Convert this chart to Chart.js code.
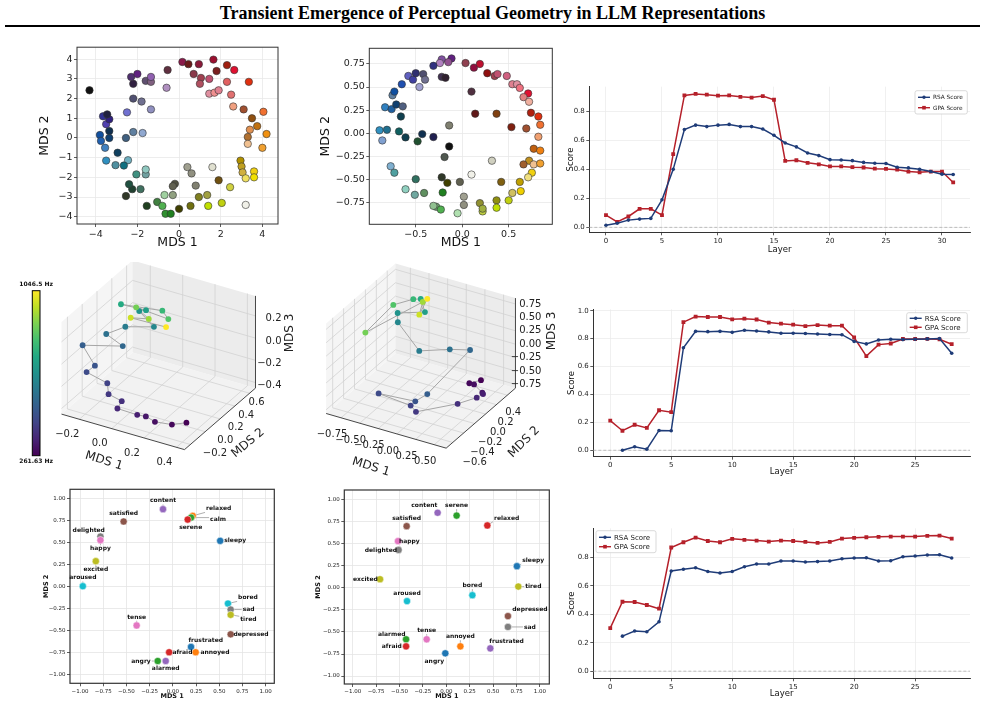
<!DOCTYPE html>
<html><head><meta charset="utf-8">
<script src="https://cdn.jsdelivr.net/npm/chart.js@4.4.1/dist/chart.umd.min.js"></script>
<style>
body{margin:0;background:#fff;width:985px;height:706px;position:relative;overflow:hidden;}
canvas{position:absolute;}
#title{position:absolute;left:0;width:985px;top:3px;text-align:center;font-family:"Liberation Serif","Times New Roman",serif;font-weight:bold;font-size:18px;color:#000;}
#rule{position:absolute;left:5px;width:975px;top:25px;height:2px;background:#000;}
</style></head><body>
<div id="title">Transient Emergence of Perceptual Geometry in LLM Representations</div>
<div id="rule"></div>
<canvas id="c1"></canvas><canvas id="c2"></canvas><canvas id="c3"></canvas>
<canvas id="c4"></canvas><canvas id="c5"></canvas><canvas id="c6"></canvas>
<canvas id="c7"></canvas><canvas id="c8"></canvas><canvas id="c9"></canvas>
<script>
// ---------------- DATA ----------------
// Panel 1: 2D MDS (colour stimuli)
const p1x = [-4.3,0.16,0.45,0.95,1.65,2.3,2.65,1.8,0.7,1.05,
 1.45,1.0,2.3,3.35,1.45,1.7,1.9,2.5,2.6,3.1,
 4.05,3.5,3.75,3.4,4.2,3.3,3.3,4.0,2.95,3.0,
 3.05,3.2,3.6,3.6,1.9,2.45,1.6,0.4,0.6,0.8,
 -0.2,-0.3,0.95,1.35,2.05,1.4,0.55,0.0,-0.3,-0.7,
 -1.05,-0.8,-0.65,-0.4,-1.55,3.2,-2.55,-2.25,-2.4,-1.85,
 -2.05,-1.6,-1.6,-2.45,-2.65,-3.05,-3.5,-2.95,-3.55,-3.8,
 -3.75,-3.35,-3.35,-3.5,-3.35,-3.65,-3.45,-2.55,-2.2,-1.75,
 -2.5,-1.35,-2.2,-1.8,-2.2,-2.3,-2.0,-1.6,-1.35,-1.35,
 -0.55,-0.6];
const p1y = [2.42,3.86,3.75,3.75,3.98,3.7,3.45,3.4,3.25,3.05,
 3.0,2.75,2.85,2.85,2.25,2.3,2.42,2.2,1.6,1.45,
 1.33,1.0,0.6,0.42,0.2,0.05,-0.3,-0.5,-1.15,-1.45,
 -1.75,-2.05,-1.7,-2.0,-2.15,-2.5,-1.48,-1.48,-1.8,-2.42,
 -2.33,-2.45,-3.0,-2.9,-3.3,-3.45,-3.45,-3.6,-2.9,-2.9,
 -3.25,-3.45,-3.85,-3.85,-3.45,-3.4,-2.95,-2.6,-2.35,-2.6,
 -1.85,-1.85,-1.6,-1.13,-1.4,-1.38,-1.15,-0.75,-0.5,0.15,
 -0.15,0.0,0.35,0.7,0.95,1.1,1.2,0.0,0.3,0.25,
 1.3,1.45,2.0,1.85,2.75,3.1,3.25,2.9,2.85,3.1,
 3.45,2.55];
const p1col = ['#111111','#8b1a4a','#6b1a1a','#8b1a3a','#9b1030','#a02010','#e01030','#7a2020','#8a3a4a','#a04050',
 '#c05070','#b05060','#e06060','#e03010','#e090a0','#f09090','#e08090','#e07070','#f0a080','#a05030',
 '#f07030','#905010','#c07010','#e09050','#f09010','#b07030','#f0c090','#f0a030','#b09000','#c0a020',
 '#d0b040','#f0e060','#f0d010','#f0e000','#705010','#d0d040','#e0e0d0','#a0a090','#909080','#808070',
 '#505040','#606050','#808020','#a0a040','#c0d010','#c0e000','#707010','#404000','#90a080','#a0d0a0',
 '#408040','#50b050','#309030','#208020','#204020','#f0f0e8','#303828','#204030','#205040','#407060',
 '#409080','#70a0a0','#90c8c0','#70b0c0','#107080','#5090a0','#3090c0','#104060','#4080c0','#1050a0',
 '#2060b0','#104070','#103050','#5040b0','#302080','#303090','#202040','#406080','#6080a0','#90a8d0',
 '#7070d0','#9090c0','#505070','#707090','#302040','#503070','#602080','#605070','#806080','#9060b0',
 '#603040','#b090c0'];
const p1XTicks = [-4,-2,0,2,4];
const p1YTicks = [-4,-3,-2,-1,0,1,2,3,4];

// Panel 2: 2D MDS (colour stimuli, second model)
const p2x = [-0.22,-0.115,-0.15,-0.24,-0.31,0.036,0.126,0.19,0.27,0.35,
 0.38,0.48,0.54,0.59,0.62,0.71,0.66,0.72,0.74,0.82,
 0.84,0.69,0.53,0.82,0.77,0.84,0.72,0.66,0.77,0.84,
 0.75,0.71,0.62,0.54,0.63,0.50,0.37,0.42,0.37,0.19,
 0.22,0.22,0.018,0.018,-0.05,-0.025,0.1,0.32,-0.21,-0.22,
 -0.16,-0.19,-0.14,-0.14,-0.28,-0.23,-0.31,-0.41,-0.51,-0.61,
 -0.5,-0.73,-0.77,-0.89,-0.81,-0.86,-0.68,-0.61,-0.48,-0.43,
 -0.31,-0.83,-0.76,-0.71,-0.64,-0.66,-0.75,-0.73,-0.65,-0.58,
 -0.53,-0.5,-0.42,-0.40,-0.46,-0.22,-0.18,0.10,0.14,0.37];
const p2y = [0.80,0.81,0.77,0.76,0.73,0.76,0.71,0.75,0.65,0.62,
 0.64,0.62,0.53,0.53,0.49,0.43,0.39,0.34,0.22,0.18,
 0.09,0.05,0.065,-0.04,-0.17,-0.19,-0.30,-0.34,-0.34,-0.33,
 -0.43,-0.48,-0.53,-0.65,-0.63,-0.73,-0.73,-0.53,-0.81,-0.76,
 -0.85,-0.82,-0.69,-0.78,-0.87,-0.53,-0.45,-0.30,-0.645,-0.48,
 -0.54,-0.26,-0.145,0.083,-0.80,-0.83,-0.79,-0.65,-0.67,-0.61,
 -0.5,-0.43,-0.36,0.03,0.036,-0.08,0.018,-0.047,-0.09,-0.011,
 -0.043,0.28,0.26,0.31,0.29,0.18,0.41,0.45,0.53,0.62,
 0.58,0.65,0.64,0.58,0.50,0.61,0.60,0.45,0.21,0.21];
const p2col = ['#8050a0','#602080','#905090','#b080c0','#303080','#904050','#901040','#c01030','#901010','#a04050',
 '#c05070','#d06080','#e08090','#e090a0','#f07080','#e01030','#e08080','#f0b0a0','#b02010','#e03010',
 '#f07030','#a05030','#802010','#f0a070','#c06010','#f08010','#c09020','#a06030','#f0c090','#f0a030',
 '#f0d010','#f0e080','#c0a000','#d0c060','#f0d000','#c0d010','#909010','#806010','#c0e000','#909030',
 '#c0d040','#a0b040','#a0a090','#909080','#b0e0b0','#606050','#f0f0e8','#d0d0c0','#208020','#303828',
 '#404000','#505850','#101010','#808070','#70a070','#50b050','#90c090','#609060','#70a8a0','#90d0c0',
 '#307060','#50a0a0','#80b0d0','#3090c0','#207090','#80a0d0','#106060','#104050','#205030','#103050',
 '#202050','#3080c0','#2060a0','#104070','#506080','#104050','#6080a0','#1050a0','#2050b0','#6060c0',
 '#4040a0','#303070','#505070','#707090','#a0a0d0','#403050','#302030','#503040','#601818','#804010'];
const p2XTicks = [-0.5,0,0.5];
const p2YTicks = [-0.75,-0.5,-0.25,0,0.25,0.5,0.75];

// Pitch stimuli (C4..C6)
const freqs = [261.63,277.18,293.66,311.13,329.63,349.23,369.99,392.00,415.30,440.00,466.16,493.88,
 523.25,554.37,587.33,622.25,659.26,698.46,739.99,783.99,830.61,880.00,932.33,987.77,1046.50];
// Panel 4: 3D MDS
const p4x = [0.366,0.290,0.176,0.129,0.071,-0.056,-0.020,-0.106,-0.123,-0.242,-0.186,-0.271,-0.107,-0.253,-0.179,-0.046,-0.093,-0.051,-0.162,0.006,0.043,-0.068,-0.034,-0.102,0.029];
const p4y = [-0.07,-0.10,-0.08,-0.10,-0.09,-0.08,-0.10,-0.09,-0.07,-0.09,-0.10,-0.08,0.104,0.2,0.296,0.392,0.296,0.296,0.2,0.392,0.392,0.2,0.296,0.2,0.392];
const p4z = [-0.364,-0.396,-0.430,-0.390,-0.406,-0.408,-0.315,-0.294,-0.214,-0.153,-0.066,0.071,0.026,0.018,0.059,0.059,0.236,0.262,0.324,0.226,0.166,0.336,0.191,0.228,0.088];
const p4XTicks = [-0.2,0,0.2,0.4], p4YTicks = [-0.2,0,0.2,0.4,0.6], p4ZTicks = [-0.4,-0.2,0,0.2];
// Panel 5: 3D MDS
const p5x = [0.383,0.227,0.383,0.494,0.551,0.512,0.349,-0.024,-0.095,-0.432,-0.126,-0.058,0.237,0.058,-0.166,-0.453,-0.456,-0.275,-0.425,-0.432,-0.514,-0.610,-0.398,-0.444,-0.430];
const p5y = [0.296,0.296,0.169,0.169,0.105,0.042,-0.085,-0.339,-0.339,-0.466,-0.212,-0.085,0.296,0.169,-0.085,-0.085,-0.085,0.169,0.296,0.169,-0.085,-0.466,0.296,0.296,0.423];
const p5z = [-0.558,-0.679,-0.527,-0.636,-0.583,-0.609,-0.677,-0.753,-0.665,-0.462,-0.710,-0.659,-0.054,-0.002,0.103,0.522,0.694,0.560,0.632,0.737,0.822,0.602,0.587,0.331,0.520];
const p5XTicks = [-0.75,-0.5,-0.25,0,0.25,0.5], p5YTicks = [-0.6,-0.4,-0.2,0,0.2,0.4], p5ZTicks = [-0.75,-0.5,-0.25,0,0.25,0.5,0.75];

// Line charts: RSA / GPA by layer
const layers3 = [0,1,2,3,4,5,6,7,8,9,10,11,12,13,14,15,16,17,18,19,20,21,22,23,24,25,26,27,28,29,30,31];
const rsa3 = [0.015,0.028,0.05,0.057,0.062,0.19,0.40,0.675,0.705,0.695,0.705,0.71,0.695,0.695,0.678,0.635,0.582,0.555,0.513,0.495,0.467,0.465,0.46,0.448,0.442,0.44,0.415,0.41,0.40,0.385,0.367,0.365];
const gpa3 = [0.085,0.037,0.075,0.128,0.128,0.085,0.505,0.91,0.92,0.915,0.908,0.91,0.90,0.895,0.905,0.88,0.458,0.463,0.445,0.435,0.42,0.42,0.415,0.413,0.405,0.403,0.398,0.385,0.38,0.385,0.385,0.31];
const layers6 = [0,1,2,3,4,5,6,7,8,9,10,11,12,13,14,15,16,17,18,19,20,21,22,23,24,25,26,27,28];
const rsa6 = [null,0.0,0.025,0.008,0.142,0.14,0.735,0.852,0.85,0.852,0.845,0.86,0.855,0.848,0.838,0.838,0.837,0.833,0.83,0.828,0.78,0.762,0.79,0.795,0.793,0.795,0.798,0.80,0.695];
const gpa6 = [0.212,0.14,0.183,0.16,0.287,0.273,0.918,0.958,0.955,0.955,0.938,0.943,0.937,0.915,0.907,0.90,0.89,0.897,0.893,0.893,0.808,0.675,0.757,0.765,0.797,0.797,0.798,0.795,0.76];
const layers9 = [0,1,2,3,4,5,6,7,8,9,10,11,12,13,14,15,16,17,18,19,20,21,22,23,24,25,26,27,28];
const rsa9 = [null,0.246,0.282,0.277,0.347,0.704,0.716,0.727,0.70,0.69,0.70,0.734,0.753,0.753,0.774,0.774,0.767,0.77,0.774,0.79,0.795,0.797,0.774,0.776,0.804,0.809,0.816,0.818,0.795];
const gpa9 = [0.303,0.488,0.486,0.465,0.439,0.869,0.906,0.939,0.915,0.906,0.93,0.923,0.918,0.911,0.918,0.915,0.908,0.901,0.908,0.932,0.937,0.941,0.944,0.946,0.946,0.946,0.951,0.953,0.932];
const lineXTicks30 = [0,5,10,15,20,25,30], lineXTicks25 = [0,5,10,15,20,25];
const lineYTicks08 = [0,0.2,0.4,0.6,0.8], lineYTicks10 = [0,0.2,0.4,0.6,0.8,1.0];

// Panels 7 & 8: emotion words
const words7 = ['content','satisfied','relaxed','calm','serene','sleepy','delighted','happy','excited','aroused','bored','sad','tired','depressed','tense','frustrated','afraid','annoyed','angry','alarmed'];
const x7 = [-0.106,-0.53,0.214,0.196,0.16,0.51,-0.78,-0.78,-0.83,-0.97,0.594,0.623,0.623,0.623,-0.39,0.196,-0.04,0.246,-0.163,-0.077];
const y7 = [0.875,0.736,0.80,0.78,0.758,0.517,0.566,0.525,0.287,0.004,-0.192,-0.26,-0.32,-0.54,-0.44,-0.683,-0.743,-0.743,-0.842,-0.842];
const col7 = ['purple','brown','orange','green','red','blue','gray','pink','olive','cyan','cyan','gray','olive','brown','pink','blue','red','orange','green','purple'];
const words8 = ['content','serene','relaxed','satisfied','happy','delighted','sleepy','excited','tired','bored','aroused','depressed','sad','tense','alarmed','annoyed','frustrated','afraid','angry'];
const x8 = [-0.093,0.11,0.438,-0.424,-0.516,-0.51,0.754,-0.708,0.769,0.278,-0.42,0.658,0.658,-0.21,-0.43,0.15,0.47,-0.43,-0.011];
const y8 = [0.852,0.82,0.708,0.70,0.53,0.43,0.246,0.098,0.015,-0.083,-0.15,-0.32,-0.443,-0.583,-0.583,-0.663,-0.686,-0.663,-0.742];
const col8 = ['purple','green','red','brown','pink','gray','blue','olive','olive','cyan','cyan','brown','gray','pink','green','orange','purple','red','blue'];
const wordTicks = [-1,-0.75,-0.5,-0.25,0,0.25,0.5,0.75,1];

// ---------------- LAYOUT (label offsets in px) ----------------
const off7 = [[0,-8.3],[0,-8],[26,-7],[27,2],[3,7.7],[15,0],[-11.7,-6.3],[0,8.7],[0,8.3],[0,-8.3],[20,-5.7],[18,0],[17.7,5],[20.3,0],[0,-8.3],[14.7,-6.7],[13.3,0],[19.3,0],[-16.7,0],[0,7.7]];
const off8 = [[-13.3,-7],[0,-10],[19.3,-7.3],[0,-8],[11.3,0],[-17.7,0],[16.3,-5.7],[-14.7,0],[15,0],[0,-9.7],[0,-8],[22,-6.3],[22,0],[0,-8.7],[-14.3,-5.3],[0,-9.7],[16.3,-7],[-14.3,0],[-11,8]];
const TAB = {blue:'#1f77b4',orange:'#ff7f0e',green:'#2ca02c',red:'#d62728',purple:'#9467bd',brown:'#8c564b',pink:'#e377c2',gray:'#7f7f7f',olive:'#bcbd22',cyan:'#17becf'};
const RSA_C = '#1f3c78', GPA_C = '#b5202a';

// ---------------- HELPERS ----------------
Chart.defaults.font.family = "'DejaVu Sans', sans-serif";
Chart.defaults.color = '#222';
Chart.defaults.animation = false;
Chart.defaults.events = [];
Chart.defaults.plugins.legend.display = false;
Chart.defaults.plugins.tooltip.enabled = false;

function fmtM(v,d){ return (v < -1e-9 ? '\u2212' : '') + Math.abs(v).toFixed(d); }
function ticksFrom(arr){ return s => { s.ticks = arr.map(v => ({value:v})); }; }
function setup(id, b){
  const c = document.getElementById(id);
  c.width = b.w; c.height = b.h;
  c.style.left = b.l+'px'; c.style.top = b.t+'px'; c.style.width = b.w+'px'; c.style.height = b.h+'px';
  return c;
}
const VIR = ['#440154','#482475','#414487','#355f8d','#2a788e','#21918c','#22a884','#44bf70','#7ad151','#bddf26','#fde725'];
function hex2rgb(h){ return [parseInt(h.substr(1,2),16),parseInt(h.substr(3,2),16),parseInt(h.substr(5,2),16)]; }
function viridis(t){
  t = Math.max(0, Math.min(1, t)); const s = t*10, i = Math.min(9, Math.floor(s)), f = s - i;
  const a = hex2rgb(VIR[i]), b = hex2rgb(VIR[i+1]);
  return 'rgb(' + a.map((v,k) => Math.round(v + (b[k]-v)*f)).join(',') + ')';
}
const fColors = freqs.map(f => viridis((f - freqs[0])/(freqs[freqs.length-1]-freqs[0])));

const framePlugin = { id:'frame', beforeDatasetsDraw(chart, args, o){
  if (!o || !o.color) return;
  const a = chart.chartArea, ctx = chart.ctx;
  ctx.save(); ctx.strokeStyle = o.color; ctx.lineWidth = o.width;
  ctx.strokeRect(a.left, a.top, a.right-a.left, a.bottom-a.top); ctx.restore();
}};
const zeroPlugin = { id:'zeroLine', beforeDatasetsDraw(chart, args, o){
  if (!o || !o.on) return;
  const a = chart.chartArea, ctx = chart.ctx, y = chart.scales.y.getPixelForValue(0);
  ctx.save(); ctx.strokeStyle = '#b0b0b0'; ctx.lineWidth = 0.8; ctx.setLineDash([3,2]);
  ctx.beginPath(); ctx.moveTo(a.left, y); ctx.lineTo(a.right, y); ctx.stroke(); ctx.restore();
}};
const legendPlugin = { id:'legBox', afterDatasetsDraw(chart, args, o){
  if (!o || !o.w) return;
  const a = chart.chartArea, ctx = chart.ctx;
  const left = o.side === 'right' ? a.right - o.inset - o.w : a.left + o.inset;
  const top = a.top + o.top;
  ctx.save();
  ctx.fillStyle = 'rgba(255,255,255,0.9)'; ctx.strokeStyle = '#cfcfcf'; ctx.lineWidth = 0.8;
  ctx.beginPath(); ctx.roundRect(left, top, o.w, o.h, 2); ctx.fill(); ctx.stroke();
  chart.data.datasets.forEach((ds, i) => {
    const y = top + o.rows[i];
    ctx.strokeStyle = ds.borderColor; ctx.lineWidth = 1.4;
    ctx.beginPath(); ctx.moveTo(left+3, y); ctx.lineTo(left+15, y); ctx.stroke();
    ctx.fillStyle = ds.borderColor;
    if (ds.pointStyle === 'rect') ctx.fillRect(left+9-1.8, y-1.8, 3.6, 3.6);
    else { ctx.beginPath(); ctx.arc(left+9, y, 1.7, 0, Math.PI*2); ctx.fill(); }
    ctx.fillStyle = '#222'; ctx.font = o.font + 'px DejaVu Sans'; ctx.textBaseline = 'middle'; ctx.textAlign = 'left';
    ctx.fillText(ds.label, left+18, y+0.5);
  });
  ctx.restore();
}};
function leaderGeom(ctx, pt, off, word){
  const lx = pt.x + off[0], ly = pt.y + off[1];
  const hw = ctx.measureText(word).width/2 + 1, hh = 3.6;
  const cx = Math.max(lx-hw, Math.min(pt.x, lx+hw)), cy = Math.max(ly-hh, Math.min(pt.y, ly+hh));
  return {lx, ly, cx, cy};
}
const wordPlugin = { id:'words',
  beforeDatasetsDraw(chart, args, o){
    if (!o || !o.words) return;
    const ctx = chart.ctx, meta = chart.getDatasetMeta(0);
    ctx.save(); ctx.font = 'bold 6px DejaVu Sans'; ctx.strokeStyle = '#9a9a9a'; ctx.lineWidth = 0.8;
    meta.data.forEach((pt, i) => {
      const g = leaderGeom(ctx, pt, o.offsets[i], o.words[i]);
      if (Math.hypot(g.cx-pt.x, g.cy-pt.y) > 4.5) { ctx.beginPath(); ctx.moveTo(pt.x, pt.y); ctx.lineTo(g.cx, g.cy); ctx.stroke(); }
    });
    ctx.restore();
  },
  afterDatasetsDraw(chart, args, o){
    if (!o || !o.words) return;
    const ctx = chart.ctx, meta = chart.getDatasetMeta(0);
    ctx.save(); ctx.font = 'bold 6px DejaVu Sans'; ctx.fillStyle = '#111'; ctx.textAlign = 'center'; ctx.textBaseline = 'middle';
    meta.data.forEach((pt, i) => { const g = leaderGeom(ctx, pt, o.offsets[i], o.words[i]); ctx.fillText(o.words[i], g.lx, g.ly); });
    ctx.restore();
  }
};

// 3D projection (matplotlib default view: elev 30, azim -60, box aspect 4:4:3)
function projN(p, R){
  const u = (p[0]-(R.x[0]+R.x[1])/2)/(R.x[1]-R.x[0]);
  const v = (p[1]-(R.y[0]+R.y[1])/2)/(R.y[1]-R.y[0]);
  const w = 0.75*(p[2]-(R.z[0]+R.z[1])/2)/(R.z[1]-R.z[0]);
  return {x: 0.8660254*u + 0.5*v, y: -0.25*u + 0.4330127*v + 0.8660254*w};
}
const box3dPlugin = { id:'box3d',
  beforeDatasetsDraw(chart, args, o){
    if (!o || !o.R) return;
    const ctx = chart.ctx, R = o.R;
    const P = (x,y,z) => { const s = projN([x,y,z], R); return [chart.scales.x.getPixelForValue(s.x), chart.scales.y.getPixelForValue(s.y)]; };
    const [x0,x1] = R.x, [y0,y1] = R.y, [z0,z1] = R.z;
    const poly = (pts, fill) => { ctx.beginPath(); pts.forEach((p,i) => i ? ctx.lineTo(p[0],p[1]) : ctx.moveTo(p[0],p[1])); ctx.closePath(); ctx.fillStyle = fill; ctx.fill(); };
    const line = (a,b,c,w) => { ctx.strokeStyle = c; ctx.lineWidth = w; ctx.beginPath(); ctx.moveTo(a[0],a[1]); ctx.lineTo(b[0],b[1]); ctx.stroke(); };
    ctx.save();
    poly([P(x0,y0,z0),P(x1,y0,z0),P(x1,y1,z0),P(x0,y1,z0)], '#f2f2f2');
    poly([P(x0,y0,z0),P(x0,y1,z0),P(x0,y1,z1),P(x0,y0,z1)], '#f5f5f5');
    poly([P(x0,y1,z0),P(x1,y1,z0),P(x1,y1,z1),P(x0,y1,z1)], '#ececec');
    const g = '#d2d2d2';
    o.xt.forEach(t => { line(P(t,y0,z0),P(t,y1,z0),g,0.8); line(P(t,y1,z0),P(t,y1,z1),g,0.8); });
    o.yt.forEach(t => { line(P(x0,t,z0),P(x1,t,z0),g,0.8); line(P(x0,t,z0),P(x0,t,z1),g,0.8); });
    o.zt.forEach(t => { line(P(x0,y1,t),P(x1,y1,t),g,0.8); line(P(x0,y0,t),P(x0,y1,t),g,0.8); });
    const ax = '#333';
    line(P(x0,y0,z0),P(x1,y0,z0),ax,0.9);
    line(P(x1,y0,z0),P(x1,y1,z0),ax,0.9);
    line(P(x1,y1,z0),P(x1,y1,z1),ax,0.9);
    ctx.fillStyle = '#222'; ctx.font = '10px DejaVu Sans'; ctx.textBaseline = 'middle'; ctx.textAlign = 'center';
    o.xt.forEach(t => { const p = P(t,y0,z0); ctx.fillText(fmtM(t,o.xd), p[0]+o.xo[0], p[1]+o.xo[1]); });
    const yA = o.yt[0], yB = o.yt[o.yt.length-1];
    o.yt.forEach(t => { const p = P(x1,t,z0), f = (t-yA)/(yB-yA);
      ctx.fillText(fmtM(t,o.yd), p[0]+o.yo0[0]+(o.yo1[0]-o.yo0[0])*f, p[1]+o.yo0[1]+(o.yo1[1]-o.yo0[1])*f); });
    ctx.textAlign = 'right';
    o.zt.forEach(t => { const p = P(x1,y1,t); ctx.fillText(fmtM(t,o.zd), p[0]+o.zo[0], p[1]+o.zo[1]); });
    ctx.font = '12px DejaVu Sans'; ctx.textAlign = 'center';
    o.titles.forEach(ti => { ctx.save(); ctx.translate(ti.x, ti.y); ctx.rotate(ti.r*Math.PI/180); ctx.fillText(ti.t, 0, 0); ctx.restore(); });
    if (o.cbar) {
      const c = o.cbar, grd = ctx.createLinearGradient(0, c.y+c.h, 0, c.y);
      VIR.forEach((col, i) => grd.addColorStop(i/10, col));
      ctx.fillStyle = grd; ctx.fillRect(c.x, c.y, c.w, c.h);
      ctx.strokeStyle = '#000'; ctx.lineWidth = 1; ctx.strokeRect(c.x, c.y, c.w, c.h);
      ctx.fillStyle = '#111'; ctx.font = 'bold 6px DejaVu Sans'; ctx.textAlign = 'center';
      ctx.fillText(freqs[freqs.length-1].toFixed(1) + ' Hz', c.x + c.w/2, c.y - 6.5);
      ctx.fillText(freqs[0].toFixed(2) + ' Hz', c.x + c.w/2, c.y + c.h + 5.5);
    }
    ctx.restore();
  }
};

function chart2d(id, box, area, cfg){
  const c = setup(id, box);
  const o = cfg.options;
  o.responsive = false; o.maintainAspectRatio = false; o.devicePixelRatio = 1; o.animation = false;
  o.layout = {autoPadding:false, padding:{left:0, top: area.t-box.t, right: box.l+box.w-area.r, bottom:0}};
  const xH = box.t + box.h - area.b, yW = area.l - box.l;
  o.scales.x.afterFit = s => { s.height = xH; };
  o.scales.y.afterFit = s => { s.width = yW; };
  return new Chart(c, cfg);
}
function axis(min, max, ticks, dec, fs, title, tfs, tpad, gridC, bold){
  return {
    type:'linear', min, max, afterBuildTicks: ticksFrom(ticks),
    grid:{color:gridC, lineWidth:0.8, drawTicks:true, tickLength:3, tickColor:'#333'},
    border:{display:false},
    ticks:{font:{size:fs}, color:'#222', padding:1.5, autoSkip:false, maxRotation:0, minRotation:0, callback: v => fmtM(v, dec)},
    title:{display:true, text:title, color:'#111', font:{size:tfs, weight: bold ? 'bold' : 'normal'}, padding:tpad}
  };
}

// ---------------- PANEL 1 ----------------
chart2d('c1', {l:30,t:40,w:260,h:215}, {l:77,t:47,r:278,b:224}, {
  type:'scatter',
  data:{datasets:[{data: p1x.map((x,i)=>({x, y:p1y[i]})), pointBackgroundColor:p1col, pointBorderColor:'#333', pointBorderWidth:0.6, pointRadius:3.7}]},
  options:{scales:{
    x: axis(-4.9, 4.75, p1XTicks, 0, 9.5, 'MDS 1', 12.5, {top:0,bottom:4.5}, '#e8e8e8'),
    y: axis(-4.37, 4.61, p1YTicks, 0, 9.5, 'MDS 2', 12.5, {top:7.5,bottom:0}, '#e8e8e8')},
    plugins:{frame:{color:'#333', width:1}}},
  plugins:[framePlugin]
});
// ---------------- PANEL 2 ----------------
chart2d('c2', {l:310,t:40,w:250,h:215}, {l:369.3,t:48.3,r:552.3,b:224.3}, {
  type:'scatter',
  data:{datasets:[{data: p2x.map((x,i)=>({x, y:p2y[i]})), pointBackgroundColor:p2col, pointBorderColor:'#333', pointBorderWidth:0.6, pointRadius:3.7}]},
  options:{scales:{
    x: axis(-1.0, 0.97, p2XTicks, 1, 9.5, 'MDS 1', 12.5, {top:0,bottom:4.5}, '#e8e8e8'),
    y: axis(-0.99, 0.92, p2YTicks, 2, 9.5, 'MDS 2', 12.5, {top:8,bottom:0}, '#e8e8e8')},
    plugins:{frame:{color:'#333', width:1}}},
  plugins:[framePlugin]
});

// ---------------- LINE PANELS ----------------
function lineChart(id, box, area, layers, rsa, gpa, xmin, xmax, ymin, ymax, xt, yt, xpad, ypad, leg){
  const lineAxis = (min, max, ticks, dec, title, pad) => {
    const a = axis(min, max, ticks, dec, 7, title, 8.5, pad, '#ececec');
    a.border = {display:true, color:'#333', width:1};
    return a;
  };
  return chart2d(id, box, area, {
    type:'line',
    data:{datasets:[
      {label:'RSA Score', data: layers.map((l,i)=>({x:l, y:rsa[i]})), borderColor:RSA_C, backgroundColor:RSA_C, borderWidth:1.5, pointRadius:1.8, pointStyle:'circle', pointBackgroundColor:RSA_C, pointBorderWidth:0, tension:0},
      {label:'GPA Score', data: layers.map((l,i)=>({x:l, y:gpa[i]})), borderColor:GPA_C, backgroundColor:GPA_C, borderWidth:1.5, pointRadius:2.7, pointStyle:'rect', pointBackgroundColor:GPA_C, pointBorderWidth:0, tension:0}
    ]},
    options:{scales:{
      x: lineAxis(xmin, xmax, xt, 0, 'Layer', xpad),
      y: lineAxis(ymin, ymax, yt, 1, 'Score', ypad)},
      plugins:{zeroLine:{on:true}, legBox:leg}},
    plugins:[zeroPlugin, legendPlugin]
  });
}
lineChart('c3', {l:555,t:75,w:425,h:182}, {l:589.3,t:86.7,r:970,b:232.3}, layers3, rsa3, gpa3,
  -1.49, 32.5, -0.034, 0.97, lineXTicks30, lineYTicks08, {top:0,bottom:1.9}, {top:10.6,bottom:0},
  {side:'right', inset:2.7, top:4, w:52.3, h:23.3, rows:[6.6,17], font:5.8});
lineChart('c6', {l:555,t:295,w:425,h:182}, {l:593.3,t:309.3,r:970,b:456.7}, layers6, rsa6, gpa6,
  -1.39, 29.5, -0.046, 1.01, lineXTicks25, lineYTicks10, {top:0,bottom:0}, {top:11.6,bottom:0},
  {side:'right', inset:2.7, top:3.4, w:60.6, h:20, rows:[5.6,14.6], font:7});
lineChart('c9', {l:555,t:515,w:425,h:186}, {l:593.3,t:528.3,r:970,b:678.3}, layers9, rsa9, gpa9,
  -1.39, 29.5, -0.05, 1.004, lineXTicks25, lineYTicks08, {top:0,bottom:2.6}, {top:11.6,bottom:0},
  {side:'left', inset:2.7, top:2.4, w:60, h:22, rows:[6.6,16], font:7});

// ---------------- 3D PANELS ----------------
function chart3d(id, box, center, k, pts, R, opts){
  const c = setup(id, box);
  const cx = center[0]-box.l, cy = center[1]-box.t;
  opts.R = R;
  return new Chart(c, {
    type:'scatter',
    data:{datasets:[{data: pts.map(p => projN(p, R)), showLine:true, borderColor:'#a6a6a6', borderWidth:1,
      pointRadius:2.9, pointBackgroundColor:fColors, pointBorderColor:fColors, pointBorderWidth:0}]},
    options:{responsive:false, maintainAspectRatio:false, devicePixelRatio:1, animation:false,
      layout:{autoPadding:false, padding:0},
      scales:{x:{type:'linear', display:false, min:-cx/k, max:(box.w-cx)/k},
              y:{type:'linear', display:false, min:(cy-box.h)/k, max:cy/k}},
      plugins:{box3d:opts}},
    plugins:[box3dPlugin]
  });
}
chart3d('c4', {l:0,t:262,w:300,h:215}, [158.5,355], 142,
  p4x.map((x,i)=>[x, p4y[i], p4z[i]]), {x:[-0.31,0.45], y:[-0.28,0.68], z:[-0.45,0.38]},
  {xt:p4XTicks, yt:p4YTicks, zt:p4ZTicks, xd:1, yd:1, zd:1,
   xo:[-12,15], yo0:[24.5,8.5], yo1:[7,9.5], zo:[26,3],
   titles:[{t:'MDS 1', x:104, y:199, r:17},{t:'MDS 2', x:248, y:181, r:-40},{t:'MDS 3', x:290, y:71, r:-90}],
   cbar:{x:32.3, y:28.7, w:7.7, h:165}});
chart3d('c5', {l:300,t:262,w:265,h:215}, [420.8,355.8], 138.6,
  p5x.map((x,i)=>[x, p5y[i], p5z[i]]), {x:[-0.95,0.66], y:[-0.72,0.55], z:[-0.82,0.86]},
  {xt:p5XTicks, yt:p5YTicks, zt:p5ZTicks, xd:2, yd:1, zd:2,
   xo:[-9,17], yo0:[22,20], yo1:[6,17], zo:[26,0],
   titles:[{t:'MDS 1', x:71, y:205, r:17},{t:'MDS 2', x:224, y:180, r:-45},{t:'MDS 3', x:252, y:69, r:-90}]});

// ---------------- WORD PANELS ----------------
function wordChart(id, box, area, xs, ys, cols, words, offs, xpad, ypad, xr, yr){
  return chart2d(id, box, area, {
    type:'scatter',
    data:{datasets:[{data: xs.map((x,i)=>({x, y:ys[i]})), pointBackgroundColor: cols.map(c=>TAB[c]), pointBorderColor:'#ffffff', pointBorderWidth:0.5, pointRadius:3.6}]},
    options:{scales:{
      x: axis(xr[0], xr[1], wordTicks, 2, 5.5, 'MDS 1', 6.5, xpad, '#e4e4e4', true),
      y: axis(yr[0], yr[1], wordTicks, 2, 5.5, 'MDS 2', 6.5, ypad, '#e4e4e4', true)},
      plugins:{frame:{color:'#333', width:1.2}, words:{words, offsets:offs}}},
    plugins:[framePlugin, wordPlugin]
  });
}
wordChart('c7', {l:30,t:482,w:260,h:222}, {l:70,t:489.3,r:274.3,b:683.3}, x7, y7, col7, words7, off7,
  {top:0,bottom:4.1}, {top:12.1,bottom:0}, [-1.108,1.093], [-1.094,1.10]);
wordChart('c8', {l:305,t:482,w:255,h:222}, {l:344.3,t:490,r:549.3,b:684}, x8, y8, col8, words8, off8,
  {top:0,bottom:3.4}, {top:9.1,bottom:0}, [-1.09,1.10], [-1.09,1.11]);
</script>
</body></html>
